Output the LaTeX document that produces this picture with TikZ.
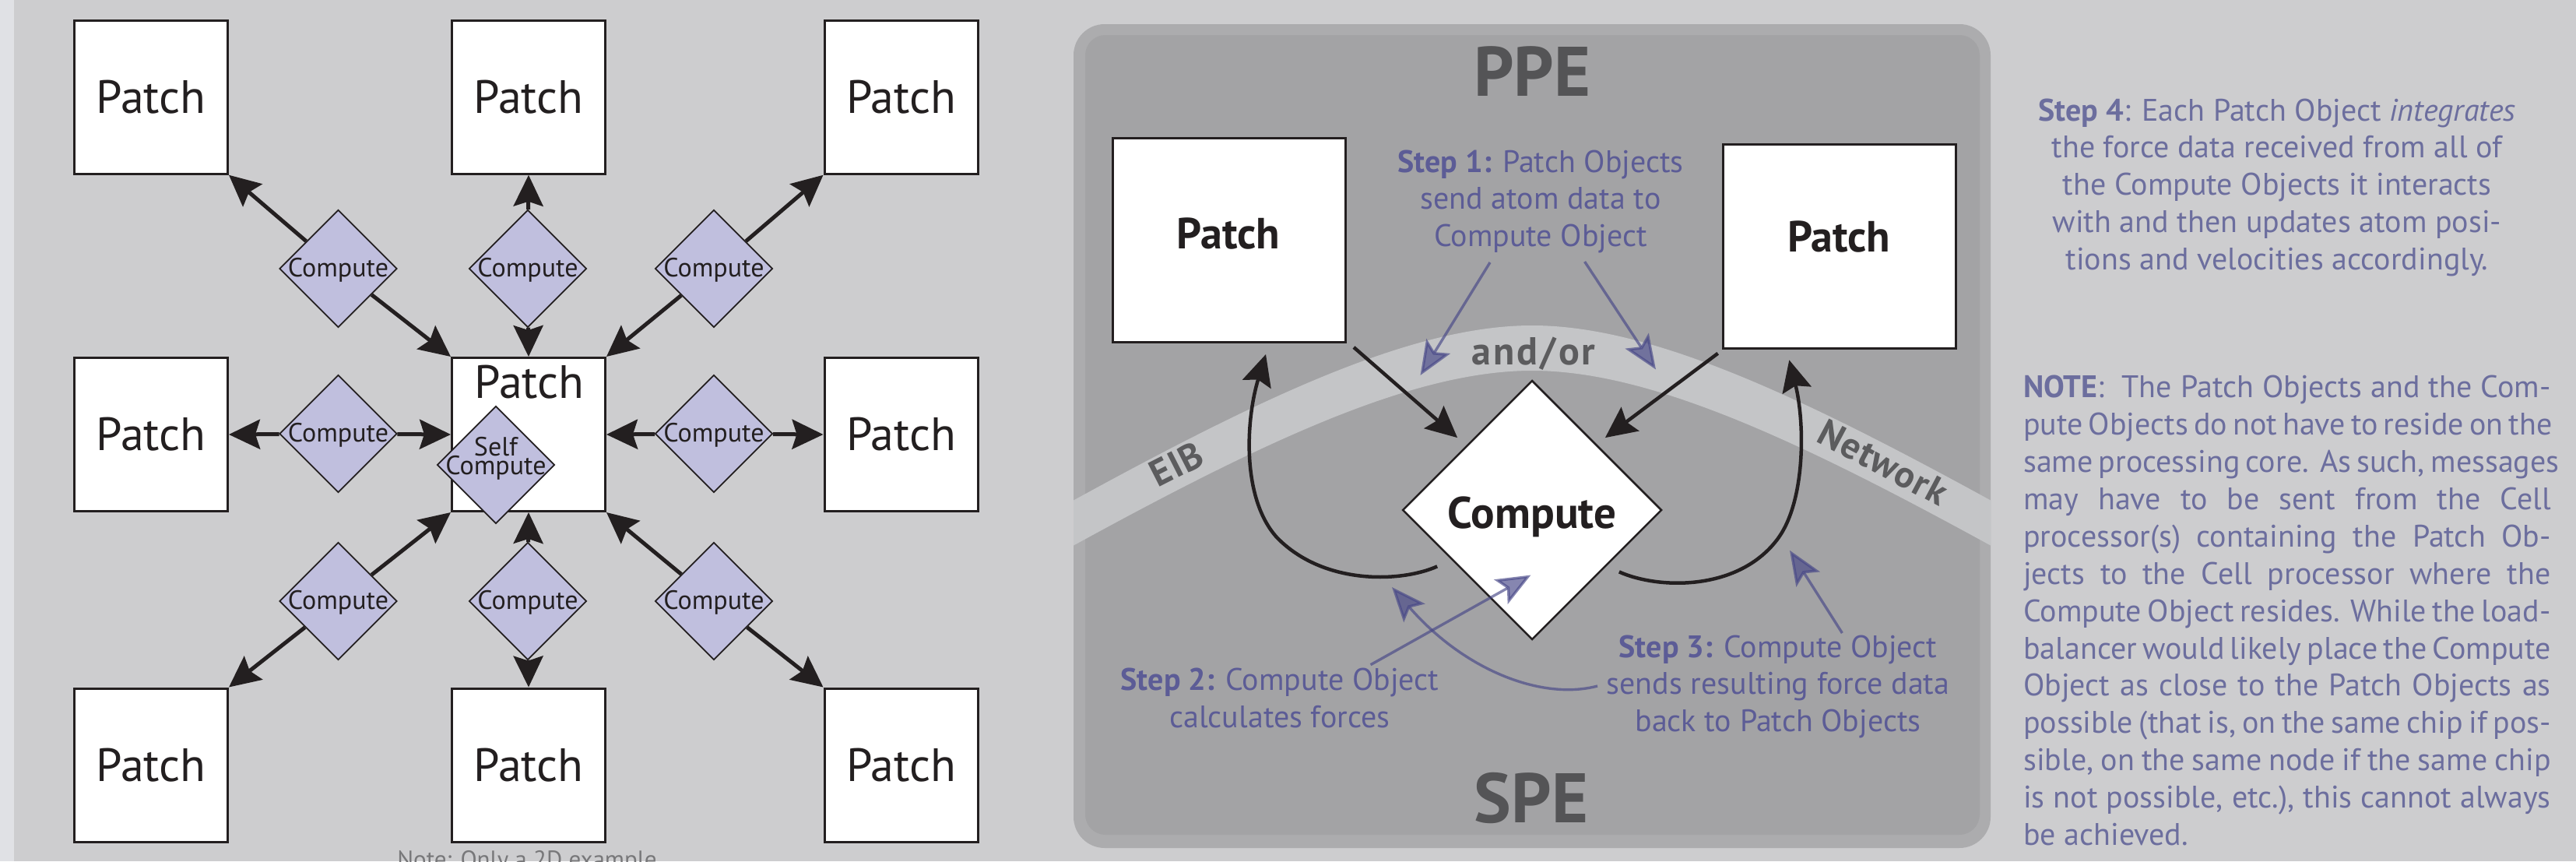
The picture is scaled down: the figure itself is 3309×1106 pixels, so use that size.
\documentclass[tikz,border=0pt]{standalone}
\usepackage{fontspec}
\setmainfont{PT Sans}
\usetikzlibrary{arrows.meta,shapes.geometric,calc}

\definecolor{pagebg}{RGB}{205,205,207}
\definecolor{edgestrip}{RGB}{224,225,229}
\definecolor{framegray}{RGB}{172,172,174}
\definecolor{corearea}{RGB}{163,163,165}
\definecolor{busband}{RGB}{196,197,199}
\definecolor{lav}{RGB}{192,191,222}
\definecolor{ink}{RGB}{35,31,32}
\definecolor{stepblue}{RGB}{92,92,150}
\definecolor{noteblue}{RGB}{108,110,158}
\definecolor{arrowblue}{RGB}{70,70,135}
\definecolor{buslabel}{RGB}{92,92,94}
\definecolor{titlegray}{RGB}{84,84,86}
\definecolor{hintgray}{RGB}{120,120,122}

\tikzset{
  patchbox/.style={draw=ink, line width=3pt, fill=white, inner sep=0pt,
    minimum width=197pt, minimum height=197pt,
    font=\fontsize{60}{62}\selectfont, text=ink},
  bigpatch/.style={draw=ink, line width=3pt, fill=white, inner sep=0pt,
    minimum width=299pt, minimum height=262pt},
  patchlabel/.style={font=\bfseries\fontsize{56}{58}\selectfont, text=ink, inner sep=0pt},
  cdia/.style={diamond, shape aspect=1, draw=ink, line width=1.8pt, fill=lav,
    minimum width=151pt, minimum height=151pt, inner sep=0pt},
  clabel/.style={font=\fontsize{34}{34}\selectfont, text=ink, inner sep=0pt, anchor=base},
  bigdia/.style={diamond, shape aspect=1, draw=ink, line width=2.5pt, fill=white,
    minimum width=333pt, minimum height=333pt, inner sep=0pt},
  link/.style={draw=ink, line width=5pt, -{Stealth[length=40pt,width=38pt,inset=6pt]}},
  flow/.style={draw=ink, line width=4.5pt, -{Stealth[length=40pt,width=38pt,inset=6pt]}},
  hint/.style={draw=arrowblue, draw opacity=0.65, fill opacity=0.65, line width=3.4pt,
    -{Stealth[length=44pt,width=36pt,inset=9pt,fill=arrowblue]}},
  title/.style={font=\bfseries\fontsize{90}{90}\selectfont, text=titlegray, inner sep=0pt, anchor=base},
  buslbl/.style={font=\bfseries\fontsize{48}{48}\selectfont\addfontfeatures{LetterSpace=3},
    text=buslabel, inner sep=0pt, anchor=base},
  steptext/.style={font=\fontsize{40}{47.5}\selectfont, text=stepblue, inner sep=0pt, anchor=base},
  sidetext/.style={font=\fontsize{40}{47.9}\selectfont, text=noteblue, inner sep=0pt},
}

\begin{document}
\begin{tikzpicture}[x=1pt, y=-1pt]
\useasboundingbox (0,0) rectangle (3309,1106);
\fill[pagebg] (0,0) rectangle (3309,1106);
\fill[edgestrip] (0,0) rectangle (18,1106);

% ---------------- patch / compute grid ----------------
\node[patchbox] (p11) at (194,124.75) {Patch};
\node[patchbox] (p12) at (679,124.75) {Patch};
\node[patchbox] (p13) at (1157.5,124.75) {Patch};
\node[patchbox] (p21) at (194,558) {Patch};
\node[patchbox] (p22) at (679,558) {};
\node[patchbox] (p23) at (1157.5,558) {Patch};
\node[patchbox] (p31) at (194,982.5) {Patch};
\node[patchbox] (p32) at (679,982.5) {Patch};
\node[patchbox] (p33) at (1157.5,982.5) {Patch};
\node[font=\fontsize{60}{62}\selectfont, text=ink, inner sep=0pt, anchor=base]
  at ($(p22.center)+(1,-47)$) {Patch};

\node[cdia] (ct1) at (434.5,345) {};
\node[cdia] (ct2) at (678,345) {};
\node[cdia] (ct3) at (917,345) {};
\node[cdia] (cm1) at (434.5,557) {};
\node[cdia] (cm3) at (917,557) {};
\node[cdia] (cb1) at (434.5,772) {};
\node[cdia] (cb2) at (678,772) {};
\node[cdia] (cb3) at (917,772) {};
\foreach \c in {ct1,ct2,ct3,cm1,cm3,cb1,cb2,cb3}
  \node[clabel] at ($(\c.center)+(0,10)$) {Compute};
\node[cdia] (cself) at (637,597) {};
\node[clabel] at ($(cself.center)+(0,-12)$) {Self};
\node[clabel] at ($(cself.center)+(0,12)$) {Compute};

\draw[link] (ct1) -- (p11.south east);
\draw[link] (ct1) -- (p22.north west);
\draw[link] (ct2) -- (p12.south);
\draw[link] (ct2) -- (p22.north);
\draw[link] (ct3) -- (p13.south west);
\draw[link] (ct3) -- (p22.north east);
\draw[link] (cm1) -- (p21.east);
\draw[link] (cm1) -- (p22.west);
\draw[link] (cm3) -- (p22.east);
\draw[link] (cm3) -- (p23.west);
\draw[link] (cb1) -- (p22.south west);
\draw[link] (cb1) -- (p31.north east);
\draw[link] (cb2) -- (p22.south);
\draw[link] (cb2) -- (p32.north);
\draw[link] (cb3) -- (p22.south east);
\draw[link] (cb3) -- (p33.north west);

\node[font=\fontsize{31}{31}\selectfont, text=hintgray, inner sep=0pt, anchor=base]
  at (677,1114) {Note: Only a 2D example};

% ---------------- Cell processor panel ----------------
\fill[framegray, rounded corners=40pt] (1379,31) rectangle (2557,1089);
\fill[corearea, rounded corners=26pt] (1394,45) rectangle (2543,1072);
\begin{scope}
  \clip[rounded corners=40pt] (1379,31) rectangle (2557,1089);
  \fill[busband] (1340,664) -- (1380,642)
    .. controls (1630,505) and (1818,418) .. (1968,418)
    .. controls (2118,418) and (2306,505) .. (2556,642)
    -- (2596,664) -- (2596,722) -- (2556,700)
    .. controls (2306,563) and (2118,476) .. (1968,476)
    .. controls (1818,476) and (1630,563) .. (1380,700)
    -- (1340,722) -- cycle;
\end{scope}

\node[title] (ppe) at (1968,123) {PPE};
\node[title] (spe) at (1967,1056.6) {SPE};
\node[buslbl, font=\bfseries\fontsize{50}{50}\selectfont\addfontfeatures{LetterSpace=6}]
  (andor) at (1970,468) {and/or};
\node[buslbl, rotate=27] (eib) at (1519,611) {EIB};
\node[buslbl, rotate=-28] (net) at (2411,608.5) {Network};

\node[bigpatch] (lp) at (1579,308.5) {};
\node[bigpatch] (rp) at (2363.3,316.3) {};
\node[patchlabel, anchor=base] at ($(lp.center)+(-1,11)$) {Patch};
\node[patchlabel, anchor=base] at ($(rp.center)+(-1,7)$) {Patch};

\node[bigdia] (bigc) at (1968,655) {};
\node[font=\bfseries\fontsize{57}{57}\selectfont, text=ink, inner sep=0pt, anchor=base]
  at ($(bigc.center)+(0,23)$) {Compute};

% atom data in, forces out
\draw[flow] ($(lp.south east)+(9,5)$) -- ($(bigc.north west)+(-12,-9)$);
\draw[flow] ($(rp.south west)+(-5.6,5)$) -- ($(bigc.north east)+(10,-9)$);

\coordinate (lls) at ($(bigc.south west)+(-38,-11.5)$);
\coordinate (lle) at ($(lp.south)+(47,14)$);
\coordinate (rls) at ($(bigc.south east)+(28,-4.5)$);
\coordinate (rle) at ($(rp.south)+(-65,13.5)$);
\draw[flow] (lls) .. controls (1800,748) and (1700,752) .. (1640,690)
  .. controls (1595,640) and (1600,540) .. (lle);
\draw[flow] (rls) .. controls (2130,757) and (2235,760) .. (2285,690)
  .. controls (2320,640) and (2318,540) .. (rle);

% step annotations
\node[steptext] (s1) at (1979,221)
  {\parbox[t]{420pt}{\centering\textbf{Step 1:} Patch Objects\\send atom data to\\Compute Object}};
\node[steptext] (s2) at (1644,886.5)
  {\parbox[t]{460pt}{\centering\textbf{Step 2:} Compute Object\\calculates forces}};
\node[steptext] (s3) at (2284,844)
  {\parbox[t]{480pt}{\centering\textbf{Step 3:} Compute Object\\sends resulting force data\\back to Patch Objects}};

\coordinate (h1s) at (1914,337);   \coordinate (h1e) at (1824.5,482);
\coordinate (h2s) at (2035.6,336); \coordinate (h2e) at (2127,474.5);
\coordinate (h3s) at (1760.6,853.7); \coordinate (h3e) at (1966.4,738.5);
\coordinate (h4s) at (2366.4,813); \coordinate (h4e) at (2299,706.8);
\coordinate (h5s) at (2052,881);   \coordinate (h5e) at (1788,754);
\draw[hint] (h1s) -- (h1e);
\draw[hint] (h2s) -- (h2e);
\draw[hint] (h3s) -- (h3e);
\draw[hint] (h4s) -- (h4e);
\draw[hint] (h5s) .. controls (1980,900) and (1880,860) .. (h5e);

% ---------------- side notes ----------------
\node[sidetext, anchor=base] (s4) at (2925,155)
  {\parbox[t]{660pt}{\centering\textbf{Step 4}: Each Patch Object \textit{integrates}\\
   the force data received from all of\\
   the Compute Objects it interacts\\
   with and then updates atom posi-\\
   tions and velocities accordingly.}};

\node[sidetext, anchor=base west] (note) at (2599,510.7)
  {\parbox[t]{677.5pt}{%
   \makebox[\linewidth][s]{\textbf{NOTE}:\ \ The Patch Objects and the Com-}\\
   \makebox[\linewidth][s]{pute Objects do not have to reside on the}\\
   \makebox[\linewidth][s]{same processing core.\ \ As such, messages}\\
   \makebox[\linewidth][s]{may have to be sent from the Cell}\\
   \makebox[\linewidth][s]{processor(s) containing the Patch Ob-}\\
   \makebox[\linewidth][s]{jects to the Cell processor where the}\\
   \makebox[\linewidth][s]{Compute Object resides. While the load-}\\
   \makebox[\linewidth][s]{balancer would likely place the Compute}\\
   \makebox[\linewidth][s]{Object as close to the Patch Objects as}\\
   \makebox[\linewidth][s]{possible (that is, on the same chip if pos-}\\
   \makebox[\linewidth][s]{sible, on the same node if the same chip}\\
   \makebox[\linewidth][s]{is not possible, etc.), this cannot always}\\
   be achieved.}};
\end{tikzpicture}
\end{document}
